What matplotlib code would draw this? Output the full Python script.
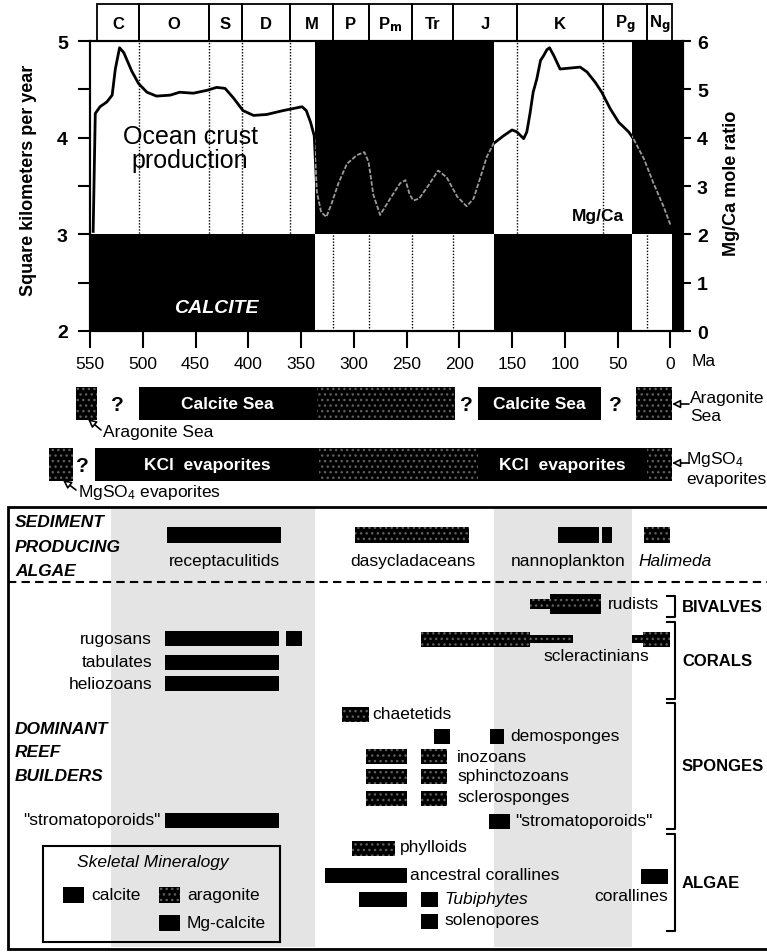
import numpy as np
import matplotlib
matplotlib.use('Agg')
import matplotlib.pyplot as plt
from matplotlib.patches import Rectangle

plt.rcParams['font.family'] = ['Liberation Sans', 'DejaVu Sans']
plt.rcParams['mathtext.default'] = 'regular'
plt.rcParams['hatch.linewidth'] = 1.0

# geologic periods and their boundaries (Ma)
periods = ['C', 'O', 'S', 'D', 'M', 'P', r'P$_\mathbf{m}$', 'Tr', 'J', 'K',
           r'P$_\mathbf{g}$', r'N$_\mathbf{g}$']
period_edges = [543, 504, 437, 406, 360, 320, 286, 245, 206, 145, 64, 22, -2]

# ocean crust production (km^2/yr); right axis reads it as Mg/Ca
age = [547, 545, 540.5, 534, 529, 526, 522, 518, 510.5, 504, 496, 487, 474,
       465, 452, 439, 430, 422, 414, 405, 395, 382.5, 367, 349, 345, 341,
       337.5, 335, 331, 326, 321, 314.5, 306.5, 297, 290, 286, 281.5, 275,
       265.5, 256, 251, 247, 243.5, 238, 229, 220, 212, 202, 193, 186.5, 180,
       174, 167.5, 158, 150, 145.5, 139, 136, 133, 130, 126.5, 123, 120, 117,
       114.5, 110.5, 104.5, 95, 85.5, 79, 71, 65, 57, 49, 39.5, 35, 25, 16,
       6.5, 0]
crust = [3.03, 4.25, 4.32, 4.37, 4.44, 4.71, 4.93, 4.88, 4.69, 4.56, 4.47,
         4.43, 4.44, 4.47, 4.46, 4.49, 4.52, 4.51, 4.41, 4.28, 4.23, 4.24,
         4.28, 4.32, 4.28, 4.16, 4.02, 3.44, 3.23, 3.18, 3.32, 3.53, 3.73,
         3.82, 3.85, 3.75, 3.41, 3.20, 3.37, 3.53, 3.56, 3.41, 3.35, 3.37,
         3.51, 3.66, 3.59, 3.39, 3.29, 3.37, 3.59, 3.80, 3.94, 4.02, 4.08,
         4.06, 3.99, 4.06, 4.25, 4.47, 4.61, 4.80, 4.85, 4.91, 4.93, 4.85,
         4.71, 4.72, 4.73, 4.68, 4.57, 4.47, 4.30, 4.16, 4.06, 3.99, 3.78,
         3.53, 3.29, 3.10]

aragonite_seas = [(337, 167), (36, -2)]

sea_calcite = [(504, 335), (182, 66)]
sea_aragonite = [(563, 543), (335, 204), (33, -2)]
sea_unknown = [524, 193, 52]
evap_kcl = [(545, 333), (182, 22)]
evap_mgso4 = [(589, 566), (333, 182), (22, -2)]
evap_unknown = [557]

reef_band = [(530, 337), (167, 36)]

algae = ['receptaculitids', 'dasycladaceans', 'nannoplankton', 'Halimeda']
algae_ranges = [[(477, 369)], [(299, 191)], [(106, 68), (65, 55)], [(25, 0)]]
algae_mineral = ['calcite', 'aragonite', 'calcite', 'aragonite']

reef = ['rudists', 'rugosans', 'tabulates', 'heliozoans', 'scleractinians',
        'chaetetids', 'demosponges', 'inozoans', 'sphinctozoans',
        'sclerosponges', '"stromatoporoids"', '"stromatoporoids"',
        'phylloids', 'ancestral corallines', 'Tubiphytes', 'solenopores',
        'corallines']
reef_ranges = [
    [(133, 66)],
    [(479, 371), (364, 349)],
    [(479, 371)],
    [(479, 371)],
    [(236, 133), (133, 92), (36, 26), (26, 0)],
    [(311, 286)],
    [(224, 209), (171, 158)],
    [(288, 250), (236, 212)],
    [(288, 250), (236, 212)],
    [(288, 250), (236, 212)],
    [(479, 371)],
    [(172, 152)],
    [(302, 261)],
    [(327, 250)],
    [(295, 250), (236, 220)],
    [(236, 220)],
    [(28, 2)],
]
reef_mineral = ['aragonite', 'calcite', 'calcite', 'calcite', 'aragonite',
                'aragonite', 'calcite', 'aragonite', 'aragonite', 'aragonite',
                'calcite', 'calcite', 'aragonite', 'calcite', 'calcite',
                'calcite', 'calcite']
rudist_calcite = (114, 66)

groups = ['BIVALVES', 'CORALS', 'SPONGES', 'ALGAE']

# ---------------------------------------------------------------- layout
W, H = 767, 953
X0, X1 = 90, 683            # pixel columns of the time axis ends
MA_L, MA_R = 550, -12
K = (X1 - X0) / (MA_L - MA_R)


def ma(px):
    return MA_L - (px - X0) / K


# bar row, label x (px)
algae_layout = [(536, 224), (536, 413), (536, 568), (536, 675)]
# bar row, label x (px), label row, alignment
reef_layout = [
    (605, 608, 605, 'left'),
    (639, 152, 640, 'right'),
    (663.5, 152, 663, 'right'),
    (684.5, 152, 685, 'right'),
    (640, 596, 657, 'center'),
    (715, 372, 715, 'left'),
    (737, 510, 737, 'left'),
    (757.5, 457, 758, 'left'),
    (777.5, 457, 777, 'left'),
    (799, 457, 798, 'left'),
    (821.5, 161, 821, 'right'),
    (822.5, 515, 822, 'left'),
    (849, 400, 848, 'left'),
    (876.5, 410, 876, 'left'),
    (900, 444, 900, 'left'),
    (922, 444, 921, 'left'),
    (877.5, 668, 897, 'right'),
]
bar_scale = {'scleractinians': [1, 0.5, 0.5, 1]}
group_spans = [(597, 618), (623, 700), (704, 830), (835, 932)]
FS = 12.5
STIPPLE = '#5e5e5e'

fig = plt.figure(figsize=(W / 100, H / 100), dpi=100)

# ---------------------------------------------------------------- top panel
ax = fig.add_axes([X0 / W, 1 - 332 / H, (X1 - X0) / W, 290 / H])
ax.set_xlim(MA_L, MA_R)
ax.set_ylim(2, 5)

for e in period_edges[1:-1]:
    ax.axvline(e, color='k', lw=1, ls=(0, (1, 1.2)), zorder=1)

ax.plot(age, crust, color='k', lw=2, zorder=2)

upper = list(aragonite_seas)
upper[-1] = (upper[-1][0], MA_R)
edges = [MA_L] + [v for span in aragonite_seas for v in span] + [MA_R]
lower = list(zip(edges[0::2], edges[1::2]))

dark = []
for a, b in upper:
    r = Rectangle((b, 3), a - b, 2, color='k', lw=0, zorder=3)
    ax.add_patch(r)
    dark.append(r)
for a, b in lower:
    ax.add_patch(Rectangle((b, 2), a - b, 1, color='k', lw=0, zorder=3))
for r in dark:
    ln, = ax.plot(age, crust, color='#9a9a9a', lw=1.3, ls=(0, (2.5, 1)),
                  zorder=4)
    ln.set_clip_path(r)

ax.text(455, 3.89, 'Ocean crust\nproduction', ha='center', va='center',
        fontsize=18, linespacing=1.0, zorder=5)
ax.text(69, 3.19, 'Mg/Ca', ha='center', va='center', fontsize=12.5,
        fontweight='bold', zorder=5)
ax.text(430, 2.24, 'CALCITE', ha='center', va='center', color='w',
        fontsize=14, fontweight='bold', style='italic', zorder=5)

ax.set_xticks(np.arange(550, -1, -50))
ax.tick_params(axis='x', length=12, width=1.5, labelsize=12.5, pad=6)
ax.set_yticks([2, 3, 4, 5])
ax.set_yticks([2.5, 3.5, 4.5], minor=True)
ax.tick_params(axis='y', which='both', length=9, width=1.5, labelsize=14,
               pad=7)
for lab in ax.get_yticklabels():
    lab.set_fontweight('bold')
for s in ax.spines.values():
    s.set_linewidth(1.5)
ax.set_ylabel('Square kilometers per year', fontsize=13, fontweight='bold')
ax.yaxis.set_label_coords((37 - X0) / (X1 - X0), (332 - 180) / 290)

ax2 = ax.twinx()
ax2.set_ylim(0, 6)
ax2.set_yticks(range(7))
ax2.tick_params(axis='y', length=6, width=1.5, labelsize=14, pad=4)
for lab in ax2.get_yticklabels():
    lab.set_fontweight('bold')
for s in ax2.spines.values():
    s.set_linewidth(1.5)
ax2.set_ylabel('Mg/Ca mole ratio', fontsize=13, fontweight='bold')
ax2.yaxis.set_label_coords((723 - X0) / (X1 - X0), (332 - 183) / 290)

fig.text(704 / W, 1 - 361 / H, 'Ma', ha='center', va='center', fontsize=12.5)

# period strip
hx = fig.add_axes([X0 / W, 1 - 42 / H, (X1 - X0) / W, 37 / H])
hx.set_xlim(MA_L, MA_R)
hx.set_ylim(0, 1)
hx.axis('off')
for name, a, b in zip(periods, period_edges[:-1], period_edges[1:]):
    hx.add_patch(Rectangle((b, 0), a - b, 1, fill=False, ec='k', lw=1.3,
                           clip_on=False))
    hx.text((a + b) / 2, 0.48, name, ha='center', va='center', fontsize=12,
            fontweight='bold')

# ---------------------------------------------------------------- lower panel
lo = fig.add_axes([0, 0, 1, (H - 335) / H])
lo.set_xlim(ma(0), ma(W))
lo.set_ylim(H, 335)
lo.axis('off')


def span_bar(a, b, y, h, mineral, z=3):
    lo.barh(y, a - b, left=b, height=h, color='k', lw=0, zorder=z)
    if mineral == 'aragonite':
        lo.barh(y, a - b, left=b, height=h, facecolor='none',
                edgecolor=STIPPLE, hatch='...', lw=0, zorder=z + 0.1)


# sea chemistry and evaporite rows
for a, b in sea_calcite:
    span_bar(a, b, 404.5, 33, 'calcite')
    lo.text((a + b) / 2, 404.5, 'Calcite Sea', color='w', ha='center',
            va='center', fontsize=FS, fontweight='bold', zorder=5)
for a, b in sea_aragonite:
    span_bar(a, b, 404.5, 33, 'aragonite')
for m in sea_unknown:
    lo.text(m, 406, '?', ha='center', va='center', fontsize=15,
            fontweight='bold')

for a, b in evap_kcl:
    span_bar(a, b, 465.5, 33, 'calcite')
    lo.text((a + b) / 2, 465.5, 'KCl  evaporites', color='w', ha='center',
            va='center', fontsize=FS, fontweight='bold', zorder=5)
for a, b in evap_mgso4:
    span_bar(a, b, 465.5, 33, 'aragonite')
for m in evap_unknown:
    lo.text(m, 467, '?', ha='center', va='center', fontsize=15,
            fontweight='bold')

arrow = dict(arrowstyle='-|>', fc='w', ec='k', lw=1.2, shrinkA=0, shrinkB=0,
             mutation_scale=12)
lo.annotate('', xy=(ma(88), 420), xytext=(ma(101), 431), arrowprops=arrow)
lo.annotate('', xy=(ma(672), 405), xytext=(ma(689), 405), arrowprops=arrow)
lo.annotate('', xy=(ma(63), 481), xytext=(ma(76), 491), arrowprops=arrow)
lo.annotate('', xy=(ma(672), 464), xytext=(ma(689), 464), arrowprops=arrow)
lo.text(ma(103), 433, 'Aragonite Sea', ha='left', va='center', fontsize=FS)
lo.text(ma(690), 408, 'Aragonite\nSea', ha='left', va='center', fontsize=FS,
        linespacing=1.25)
lo.text(ma(78), 493, 'MgSO$_4$ evaporites', ha='left', va='center',
        fontsize=FS)
lo.text(ma(686), 469, 'MgSO$_4$\nevaporites', ha='left', va='center',
        fontsize=FS, linespacing=1.25)

# framed block of calcifying organisms
for a, b in reef_band:
    lo.barh(729, a - b, left=b, height=438, color='#e4e4e4', lw=0, zorder=0)
lo.add_patch(Rectangle((ma(W + 20), 508), ma(8) - ma(W + 20), 442,
                       fill=False, ec='k', lw=2, zorder=6))
lo.plot([ma(8), ma(W)], [583, 583], color='k', lw=1.5, ls=(0, (4, 2.5)))

for txt, y in [('SEDIMENT', 523), ('PRODUCING', 548), ('ALGAE', 572),
               ('DOMINANT', 730), ('REEF', 753), ('BUILDERS', 777)]:
    lo.text(ma(15), y, txt, ha='left', va='center', fontsize=12.5,
            fontweight='bold', style='italic')

for name, ranges, mineral, (y, lx) in zip(algae, algae_ranges, algae_mineral,
                                          algae_layout):
    for a, b in ranges:
        span_bar(a, b, y, 16, mineral)
    lo.text(ma(lx), 562, name, ha='center', va='center', fontsize=FS,
            style='italic' if name == 'Halimeda' else 'normal')

for name, ranges, mineral, (y, lx, ly, ha) in zip(reef, reef_ranges,
                                                  reef_mineral, reef_layout):
    if name == 'rudists':
        a, b = rudist_calcite
        span_bar(a, b, y, 20, 'calcite')
        for a, b in ranges:
            span_bar(a, b, y, 10, mineral, z=4)
    else:
        scale = bar_scale.get(name, [1] * len(ranges))
        for (a, b), s in zip(ranges, scale):
            span_bar(a, b, y, 15 * s, mineral)
    lo.text(ma(lx), ly, name, ha=ha, va='center', fontsize=FS,
            style='italic' if name == 'Tubiphytes' else 'normal')

for name, (y0, y1) in zip(groups, group_spans):
    xb, xt = ma(675), ma(667)
    lo.plot([xt, xb, xb, xt], [y0, y0, y1, y1], color='k', lw=1.5,
            clip_on=False)
    lo.text(ma(682), (y0 + y1) / 2, name, ha='left', va='center',
            fontsize=12, fontweight='bold')

# mineralogy key
lg = fig.add_axes([43 / W, 1 - 943 / H, 237 / W, 96 / H])
lg.set_xlim(0, 237)
lg.set_ylim(96, 0)
lg.set_facecolor('none')
lg.set_xticks([])
lg.set_yticks([])
for s in lg.spines.values():
    s.set_linewidth(1.5)
lg.text(110, 16, 'Skeletal Mineralogy', ha='center', va='center',
        fontsize=FS, style='italic')
for x, y, label, mineral in [(20, 48.5, 'calcite', 'calcite'),
                             (116, 48.5, 'aragonite', 'aragonite'),
                             (116, 77, 'Mg-calcite', 'Mg-calcite')]:
    lg.add_patch(Rectangle((x, y - 8), 21, 16, color='k', lw=0))
    if mineral == 'aragonite':
        lg.add_patch(Rectangle((x, y - 8), 21, 16, facecolor='none',
                               edgecolor=STIPPLE, hatch='...', lw=0))
    lg.text(x + 28, y, label, ha='left', va='center', fontsize=FS)

fig.savefig('out.png', dpi=100)
